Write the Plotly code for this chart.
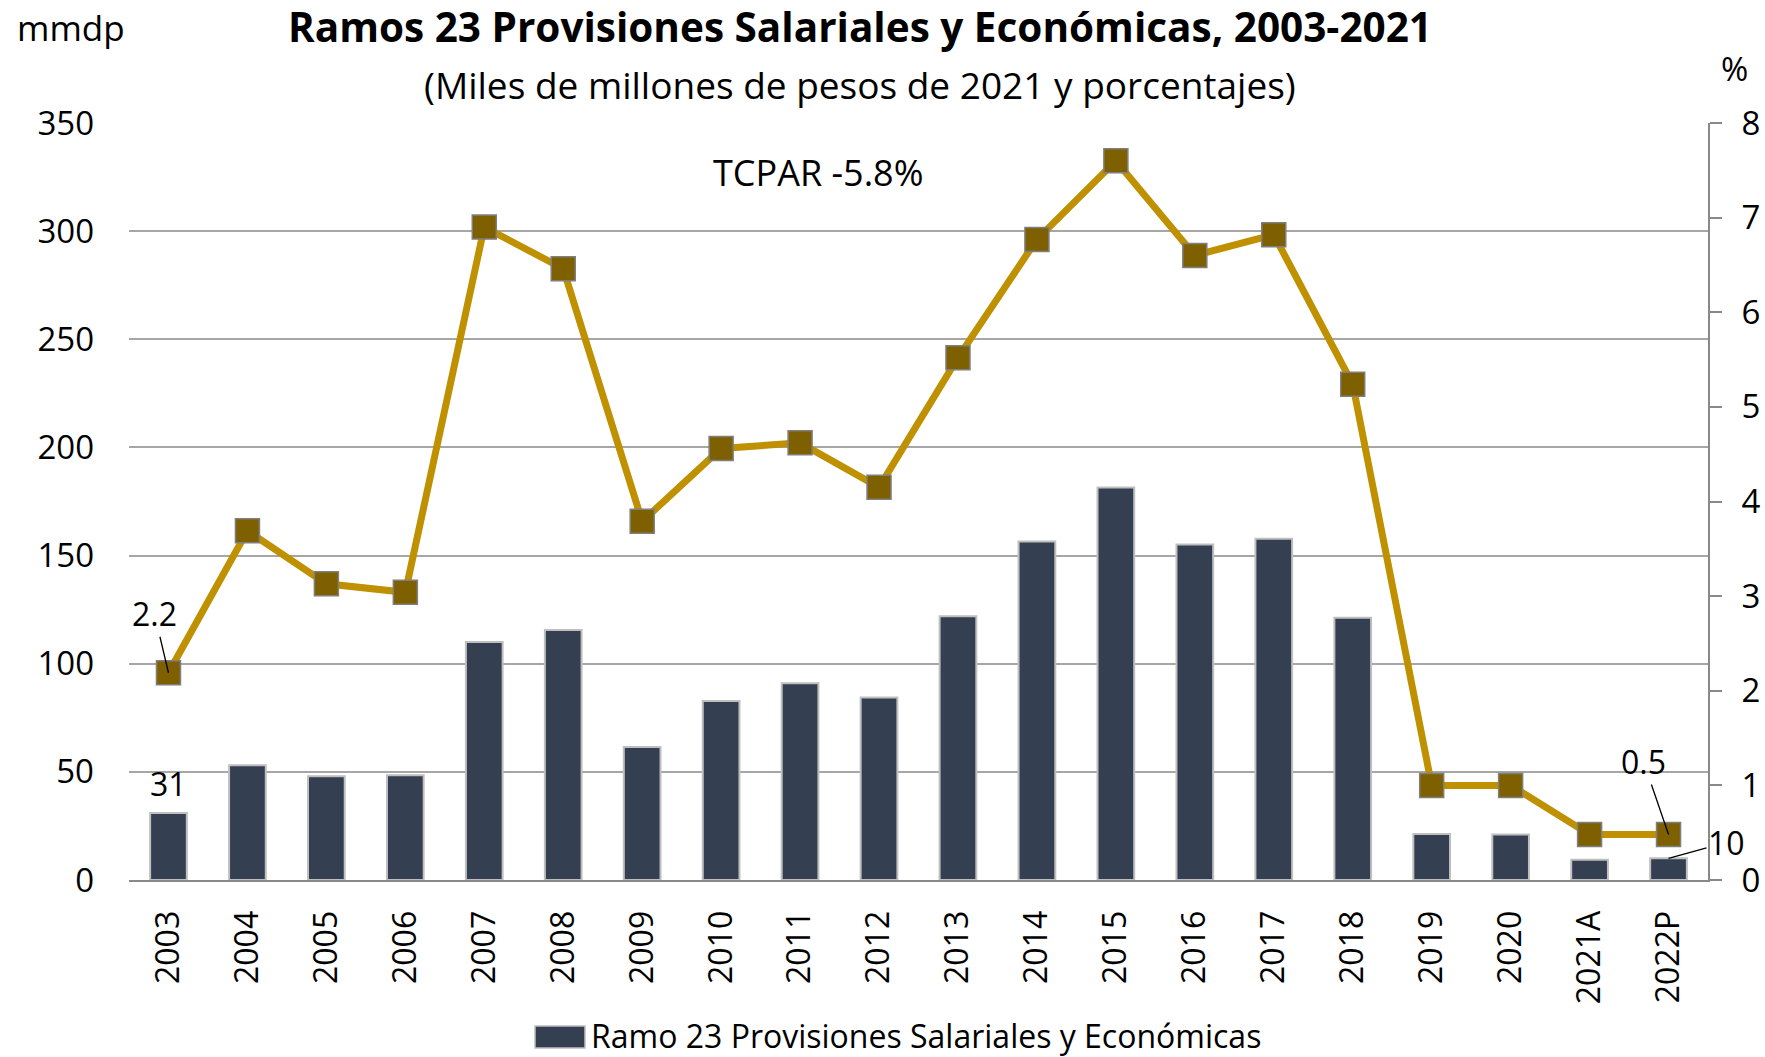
import plotly.graph_objects as go

categories = ["2003", "2004", "2005", "2006", "2007", "2008", "2009", "2010", "2011", "2012",
              "2013", "2014", "2015", "2016", "2017", "2018", "2019", "2020", "2021A", "2022P"]
ramo23_mmdp = [31, 53, 48, 48.4, 110, 115.6, 61.5, 82.8, 91, 84.4,
               122, 156.5, 181.5, 155.1, 157.8, 121.3, 21.3, 21, 9.4, 10]
ramo23_pct = [2.19, 3.69, 3.13, 3.04, 6.9, 6.46, 3.79, 4.56, 4.62, 4.15,
              5.52, 6.77, 7.6, 6.6, 6.82, 5.24, 1.0, 1.0, 0.48, 0.48]
left_ticks = [0, 50, 100, 150, 200, 250, 300, 350]
right_ticks = [0, 1, 2, 3, 4, 5, 6, 7, 8]
series_name = "Ramo 23 Provisiones Salariales y Económicas"

FONT = "Open Sans"
W, H = 1765, 1057
L, R, T, B = 129, 1708, 123, 880
BAR_COLOR = "#343F51"
BAR_EDGE = "#BFBFBF"

def px(x):
    return (x - L) / (R - L)

def py(y):
    return (B - y) / (B - T)

fig = go.Figure()
fig.add_trace(go.Bar(
    x=categories, y=ramo23_mmdp, name=series_name,
    marker=dict(color=BAR_COLOR, line=dict(color=BAR_EDGE, width=2)),
    yaxis="y", showlegend=False,
))
fig.add_trace(go.Scatter(
    x=categories, y=ramo23_pct, mode="lines+markers", name="%",
    line=dict(color="#BF9000", width=7),
    marker=dict(symbol="square", size=24, color="#7F6000", line=dict(color="#7F7F7F", width=1.5)),
    yaxis="y2", showlegend=False,
))

first, last = 0, len(categories) - 1
lab = dict(size=32, family=FONT, color="black")
ann = []
ann.append(dict(x=first, y=ramo23_mmdp[first], xref="x", yref="y", text=f"{ramo23_mmdp[first]:.0f}",
                showarrow=False, yanchor="bottom", yshift=6, font=lab))
ann.append(dict(x=first, y=ramo23_pct[first], xref="x", yref="y2", text=f"{ramo23_pct[first]:.1f}",
                showarrow=True, arrowhead=0, arrowwidth=1.3, arrowcolor="black", ax=-14, ay=-59,
                font=lab))
ann.append(dict(x=last, y=ramo23_pct[last], xref="x", yref="y2", text=f"{ramo23_pct[last]:.1f}",
                showarrow=True, arrowhead=0, arrowwidth=1.3, arrowcolor="black", ax=-25, ay=-73,
                font=lab))
ann.append(dict(x=last, y=ramo23_mmdp[last], xref="x", yref="y", text=f"{ramo23_mmdp[last]:.0f}",
                showarrow=True, arrowhead=0, arrowwidth=1.3, arrowcolor="black", ax=58, ay=-16,
                font=lab))
ann.append(dict(x=px(15), y=py(27), xref="paper", yref="paper", text="mmdp", showarrow=False,
                xanchor="left", yanchor="middle", font=dict(size=35, family=FONT, color="black")))
ann.append(dict(x=px(1734), y=py(69), xref="paper", yref="paper", text="%", showarrow=False,
                xanchor="center", yanchor="middle", font=dict(size=33, family=FONT, color="black")))
ann.append(dict(x=px(860), y=py(84), xref="paper", yref="paper",
                text="(Miles de millones de pesos de 2021 y porcentajes)", showarrow=False,
                xanchor="center", yanchor="middle", font=dict(size=37, family=FONT, color="black")))
ann.append(dict(x=px(818), y=py(172), xref="paper", yref="paper", text="TCPAR -5.8%", showarrow=False,
                xanchor="center", yanchor="middle", font=dict(size=36, family=FONT, color="black")))
# legend (swatch + label)
ann.append(dict(x=px(590), y=py(1035), xref="paper", yref="paper", text=series_name, showarrow=False,
                xanchor="left", yanchor="middle", borderpad=0,
                font=dict(size=32, family=FONT, color="black")))
shapes = [dict(type="rect", xref="paper", yref="paper", x0=px(535), x1=px(585), y0=py(1048), y1=py(1026),
               fillcolor=BAR_COLOR, line=dict(color=BAR_EDGE, width=1.5), layer="above")]

fig.update_layout(
    width=W, height=H,
    margin=dict(l=L, r=W - R, t=T, b=H - B, autoexpand=False),
    paper_bgcolor="white", plot_bgcolor="white",
    font=dict(family=FONT, size=32, color="black"),
    title=dict(text="<b>Ramos 23 Provisiones Salariales y Económicas, 2003-2021</b>",
               x=860 / W, y=1 - 28 / H, xanchor="center", yanchor="middle",
               font=dict(size=40.5, family=FONT, color="black")),
    bargap=0.535,
    showlegend=False,
    xaxis=dict(type="category", tickangle=-90, showline=True, linecolor="#898989", linewidth=2,
               ticks="", showgrid=False, range=[-0.5, len(categories) - 0.5], automargin=False,
               tickfont=dict(size=32, family=FONT, color="black"), ticklabelstandoff=16),
    yaxis=dict(range=[0, 350], tickvals=left_ticks, showgrid=True, gridcolor="#A6A6A6", gridwidth=2,
               showline=False, zeroline=False, ticks="", ticklabelstandoff=34, automargin=False,
               tickfont=dict(size=33, family=FONT, color="black")),
    yaxis2=dict(range=[0, 8], tickvals=right_ticks, overlaying="y", side="right", showgrid=False,
                showline=True, linecolor="#898989", linewidth=2, ticks="outside", ticklen=12,
                tickcolor="#898989", tickwidth=2, zeroline=False, ticklabelstandoff=13, automargin=False,
                tickfont=dict(size=33, family=FONT, color="black")),
    annotations=ann,
    shapes=shapes,
)

fig.write_html("out.html", config={"displayModeBar": False},
               post_script="document.body.style.margin='0';")
